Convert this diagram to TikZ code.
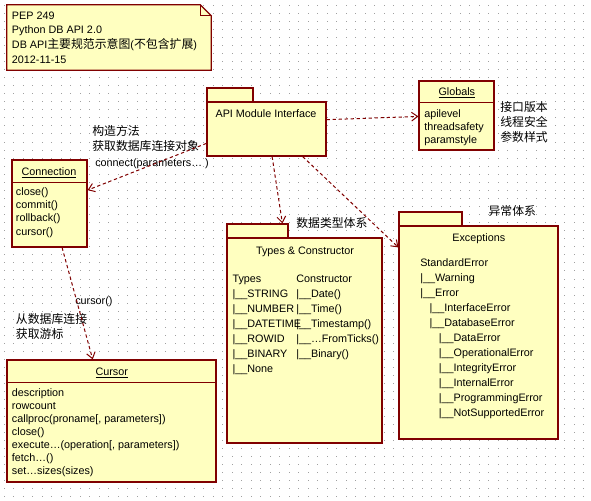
\documentclass[tikz,border=0pt]{standalone}
\usepackage{fontspec}
\setmainfont{Liberation Sans}
\newfontfamily\cjk{Noto Sans CJK SC}
\usetikzlibrary{arrows.meta,calc}
\definecolor{umlfill}{RGB}{255,255,192}
\definecolor{umlline}{RGB}{128,0,0}
\definecolor{griddot}{RGB}{160,160,160}
\newcommand\zh[1]{{\cjk\fontsize{8.9}{10}\selectfont #1}}
\begin{document}
\begin{tikzpicture}[x=0.75pt,y=-0.75pt,
  box/.style={draw=umlline, fill=umlfill, line width=0.9pt, inner sep=0pt},
  frame/.style={inner sep=0pt, draw=none},
  txt/.style={inner sep=0pt, font=\fontsize{8.1}{10}\selectfont},
  zhtxt/.style={inner sep=0pt, anchor=west, font=\cjk\fontsize{8.9}{10}\selectfont},
  divider/.style={draw=umlline, line width=0.9pt},
  conn/.style={draw=umlline, line width=0.75pt, dash pattern=on 2.5pt off 2pt, -{Straight Barb[length=4.5pt,width=6.5pt]}},
]
\useasboundingbox[fill=white] (0,0) rectangle (591,500);
% dotted grid
\foreach \i in {0,...,61}{\foreach \j in {0,...,61}{\fill[griddot] ({3.5+9.5*\i},{4.5+8.06*\j}) rectangle ++(1,1);}}

% note
\node[frame, minimum width=153pt, minimum height=48.75pt] (note) at (109,37.5) {};
\draw[divider, fill=umlfill] (note.north west) -- ($(note.north east)+(-11,0)$) -- ($(note.north east)+(0,11)$) -- (note.south east) -- (note.south west) -- cycle;
\draw[umlline, line width=0.6pt] ($(note.north east)+(-11,0)$) -- ($(note.north east)+(-11,11)$) -- ($(note.north east)+(0,11)$);
\node[txt, anchor=base west] (n1) at (11.7,19) {PEP 249};
\node[txt, anchor=base west] (n2) at (11.7,33.7) {Python DB API 2.0};
\node[txt, anchor=base west] (n3) at (11.7,48.4) {DB API\zh{主要规范示意图}(\zh{不包含扩展})};
\node[txt, anchor=base west] (n4) at (11.7,63.1) {2012-11-15};

% API module interface package
\node[box, minimum width=34.5pt, minimum height=10.5pt] (apitab) at (230,95) {};
\node[box, minimum width=89.25pt, minimum height=40.5pt] (api) at (266.5,129) {};
\node[txt, anchor=base] (apititle) at (266,117.5) {API Module Interface};

% Globals
\node[box, minimum width=56.25pt, minimum height=51.75pt] (glob) at (456.5,115.5) {};
\draw[divider] ($(glob.north west)+(0,21.8)$) -- ($(glob.north east)+(0,21.8)$);
\node[txt, anchor=base] (globtitle) at (456.8,95) {\underline{Globals}};
\foreach \t [count=\i] in {apilevel, threadsafety, paramstyle}
  \node[txt, anchor=base west] (gl\i) at (424,{117+13*(\i-1)}) {\t};
\node[zhtxt] (gz1) at (500,107) {接口版本};
\node[zhtxt] (gz2) at (500,121.7) {线程安全};
\node[zhtxt] (gz3) at (500,137) {参数样式};

% Connection
\node[box, minimum width=56.25pt, minimum height=65.25pt] (conn) at (49.5,203.5) {};
\draw[divider] ($(conn.north west)+(0,22.7)$) -- ($(conn.north east)+(0,22.7)$);
\node[txt, anchor=base] (conntitle) at (49,175.3) {\underline{Connection}};
\foreach \t [count=\i] in {close(), commit(), rollback(), cursor()}
  \node[txt, anchor=base west] (cm\i) at (15.7,{195.3+13.3*(\i-1)}) {\t};

% Cursor
\node[box, minimum width=156.75pt, minimum height=91.5pt] (cur) at (111.5,421) {};
\draw[divider] ($(cur.north west)+(0,22.7)$) -- ($(cur.north east)+(0,22.7)$);
\node[txt, anchor=base] (curtitle) at (111.8,375) {\underline{Cursor}};
\foreach \t [count=\i] in {description, rowcount, {callproc(proname[, parameters])}, close(), {execute…(operation[, parameters])}, fetch…(), set…sizes(sizes)}
  \node[txt, anchor=base west] (cu\i) at (11.7,{396.7+12.93*(\i-1)}) {\t};

% Types & Constructor package
\node[box, minimum width=45.75pt, minimum height=10.5pt] (typestab) at (257.5,231) {};
\node[box, minimum width=116.25pt, minimum height=153.75pt] (types) at (304.5,340.5) {};
\node[txt, anchor=base] (typestitle) at (305,254) {Types \& Constructor};
\foreach \t [count=\i] in {Types, |\_\_STRING, |\_\_NUMBER, |\_\_DATETIME, |\_\_ROWID, |\_\_BINARY, |\_\_None}
  \node[txt, anchor=base west] (ty\i) at (232.3,{282.3+15*(\i-1)}) {\t};
\foreach \t [count=\i] in {Constructor, |\_\_Date(), |\_\_Time(), |\_\_Timestamp(), |\_\_…FromTicks(), |\_\_Binary()}
  \node[txt, anchor=base west] (co\i) at (296,{282.3+15*(\i-1)}) {\t};
\node[zhtxt] (typeslabel) at (296,222.7) {数据类型体系};

% Exceptions package
\node[box, minimum width=47.25pt, minimum height=10.5pt] (exctab) at (430.5,219) {};
\node[box, minimum width=119.25pt, minimum height=159.75pt] (exc) at (478.5,332.5) {};
\node[txt, anchor=base] (exctitle) at (478.8,241.7) {Exceptions};
\foreach \lv/\t [count=\i] in {0/StandardError, 0/|\_\_Warning, 0/|\_\_Error, 1/|\_\_InterfaceError, 1/|\_\_DatabaseError, 2/|\_\_DataError, 2/|\_\_OperationalError, 2/|\_\_IntegrityError, 2/|\_\_InternalError, 2/|\_\_ProgrammingError, 2/|\_\_NotSupportedError}
  \node[txt, anchor=base west] (ex\i) at ({420+9.3*\lv},{266.7+15*(\i-1)}) {\t};
\node[zhtxt] (exclabel) at (488.3,210.7) {异常体系};

% connector labels
\node[zhtxt] (cl1) at (92,131) {构造方法};
\node[zhtxt] (cl2) at (92,145.7) {获取数据库连接对象};
\node[txt, anchor=base west] (cl3) at (95,166.7) {connect(parameters… )};
\node[txt, anchor=base west] (cl4) at (75,304) {cursor()};
\node[zhtxt] (cl5) at (15.7,318.7) {从数据库连接};
\node[zhtxt] (cl6) at (15.7,334) {获取游标};

% connectors
\draw[conn] ($(api.north west)+(0,42)$) -- ($(conn.north east)+(0,30.7)$);
\draw[conn] ($(api.north east)+(0,18.3)$) -- ($(glob.north west)+(0,36)$);
\draw[conn] ($(api.south west)+(65.7,0)$) -- ($(typestab.north west)+(56,0)$);
\draw[conn] ($(api.south west)+(96.3,0)$) -- ($(exc.north west)+(0,22)$);
\draw[conn] ($(conn.south west)+(50.7,0)$) -- ($(cur.north west)+(86.3,0)$);
\end{tikzpicture}
\end{document}
